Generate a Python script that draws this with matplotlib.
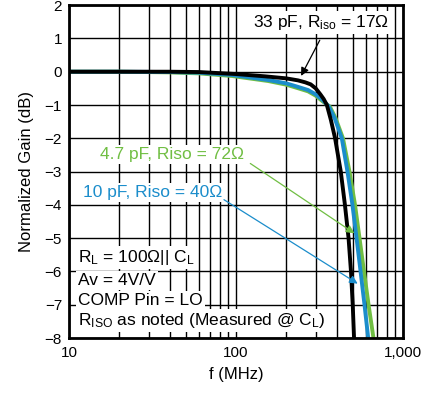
import matplotlib
matplotlib.use("Agg")
import matplotlib.pyplot as plt
from matplotlib.ticker import FixedLocator, NullFormatter

plt.rcParams['font.family'] = ['Liberation Sans', 'DejaVu Sans']
plt.rcParams['mathtext.fontset'] = 'custom'
plt.rcParams['mathtext.rm'] = 'Liberation Sans'
plt.rcParams['mathtext.it'] = 'Liberation Sans:italic'

# Data (frequency in MHz, gain in dB)
f_33pf = [10, 20, 40, 60, 100, 150, 200, 235, 260, 280, 300, 320, 335, 350, 370, 392, 424, 449, 472, 488, 500, 510]
g_33pf = [0, 0, 0, -0.01, -0.07, -0.14, -0.2, -0.26, -0.32, -0.38, -0.5, -0.68, -0.82, -1.0, -1.45, -2.0, -3.0, -4.0, -5.0, -6.0, -7.0, -8.1]

f_10pf = [10, 20, 40, 60, 95, 156, 200, 233, 270, 300, 330, 360, 390, 430, 465, 498, 527, 557, 588, 622]
g_10pf = [0, 0, -0.01, -0.03, -0.1, -0.25, -0.35, -0.45, -0.55, -0.68, -0.85, -1.05, -1.4, -2.0, -3.0, -4.0, -5.0, -6.0, -7.0, -8.1]

f_47pf = [10, 20, 40, 60, 95, 156, 200, 233, 270, 300, 330, 365, 395, 437, 478, 516, 549, 584, 622, 670]
g_47pf = [0, 0, -0.02, -0.05, -0.13, -0.28, -0.39, -0.49, -0.59, -0.72, -0.89, -1.05, -1.4, -2.0, -3.0, -4.0, -5.0, -6.0, -7.0, -8.1]

x_ticks = [10, 100, 1000]
x_tick_labels = ["10", "100", "1,000"]
y_ticks = [-8, -7, -6, -5, -4, -3, -2, -1, 0, 1, 2]

BLUE = '#1B8DCB'
GREEN = '#70BE43'

fig = plt.figure(figsize=(4.22, 3.94), dpi=100)
ax = fig.add_axes([0.1635, 0.142, 0.955 - 0.1635, 0.987 - 0.142])

ax.set_xscale('log')
ax.set_xlim(10, 1000)
ax.set_ylim(-8, 2)

minor = [m * d for d in (10, 100) for m in range(2, 10)]
ax.xaxis.set_major_locator(FixedLocator(x_ticks))
ax.xaxis.set_minor_locator(FixedLocator(minor))
ax.xaxis.set_minor_formatter(NullFormatter())
ax.set_xticks(x_ticks)
ax.set_xticklabels(x_tick_labels)
ax.set_yticks(y_ticks)
ax.tick_params(which='both', length=0, labelsize=11, colors='black')
ax.tick_params(axis='x', pad=6)
ax.tick_params(axis='y', pad=5)

ax.grid(True, which='both', color='black', linewidth=1.0, zorder=0)
for s in ax.spines.values():
    s.set_linewidth(2.0)
    s.set_zorder(5)

ax.plot(f_47pf, g_47pf, color=GREEN, lw=2.8, zorder=3, solid_joinstyle='round')
ax.plot(f_10pf, g_10pf, color=BLUE, lw=2.8, zorder=3.1, solid_joinstyle='round')
ax.plot(f_33pf, g_33pf, color='black', lw=2.8, zorder=3.2, solid_joinstyle='round')

ax.set_xlabel('f (MHz)', fontsize=12, labelpad=5)
ax.set_ylabel('Normalized Gain (dB)', fontsize=12, labelpad=8)

bb = dict(facecolor='white', edgecolor='none', pad=1.5)
fs = 12.5

ax.text(126.5, 1.35, r'33 pF, R$_{\rm iso}$ = 17Ω', ha='left', va='baseline', fontsize=fs, color='black', bbox=bb, zorder=6)
ax.annotate('', xy=(241, -0.2), xytext=(323, 1.02),
            arrowprops=dict(arrowstyle='-|>', color='black', lw=0.9, mutation_scale=12), zorder=6)

ax.text(15.3, -2.63, '4.7 pF, Riso = 72Ω', ha='left', va='baseline', fontsize=fs, color=GREEN, bbox=bb, zorder=6)
ax.annotate('', xy=(528, -4.9), xytext=(118, -2.71),
            arrowprops=dict(arrowstyle='-|>', color=GREEN, lw=0.9, mutation_scale=12), zorder=6)

ax.text(12.1, -3.76, '10 pF, Riso = 40Ω', ha='left', va='baseline', fontsize=fs, color=BLUE, bbox=bb, zorder=6)
ax.annotate('', xy=(553, -6.41), xytext=(82, -3.8),
            arrowprops=dict(arrowstyle='-|>', color=BLUE, lw=0.9, mutation_scale=12), zorder=6)

notes = [r'R$_{\rm L}$ = 100Ω|| C$_{\rm L}$', 'Av = 4V/V', 'COMP Pin = LO', r'R$_{\rm ISO}$ as noted (Measured @ C$_{\rm L}$)']
note_y = [-5.71, -6.41, -7.01, -7.61]
for t, yv in zip(notes, note_y):
    ax.text(11.3, yv, t, ha='left', va='baseline', fontsize=fs, color='black', bbox=bb, zorder=6)

fig.savefig('out.png', dpi=100)
